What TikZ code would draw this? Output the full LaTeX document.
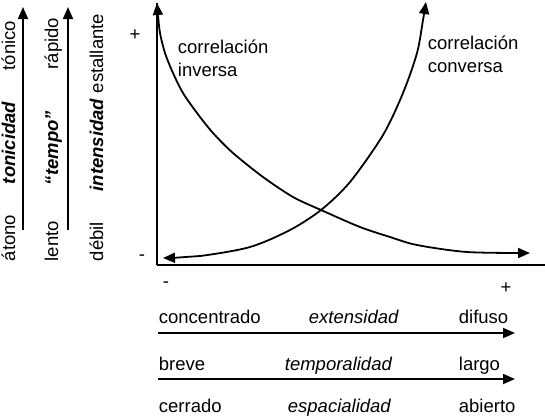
\documentclass[tikz,border=0pt]{standalone}
\usepackage{fontspec}
\setmainfont{Liberation Sans}
\usetikzlibrary{arrows.meta}
\begin{document}
\begin{tikzpicture}[x=0.5pt,y=-0.5pt,line width=0.9pt,
    every node/.style={inner sep=0pt,font=\fontsize{9.25}{11.5}\selectfont},
    vlbl/.style={rotate=90},
    axlbl/.style={font=\fontsize{9.25}{11.5}\selectfont\bfseries\itshape},
    arr/.style={-{Triangle[length=6pt,width=5pt]}},
    dblarr/.style={{Triangle[length=6pt,width=5pt]}-{Triangle[length=6pt,width=5pt]}}]
  \useasboundingbox (0,0) rectangle (545,418);
  \def\xo{157};
  \def\yo{265};
  % left scales
  \coordinate (ton-a) at (23,230);
  \coordinate (ton-b) at (23,7);
  \coordinate (tem-a) at (68,230);
  \coordinate (tem-b) at (68,7);
  \draw[arr] (ton-a) -- (ton-b);
  \draw[arr] (tem-a) -- (tem-b);
  \node (atono) at (15,262) [vlbl,anchor=base west] {átono};
  \node (tonicidad) at (15,143) [vlbl,anchor=base,axlbl] {tonicidad};
  \node (tonico) at (15,20) [vlbl,anchor=base east] {tónico};
  \node (lento) at (58,262) [vlbl,anchor=base west] {lento};
  \node (tempo) at (58,148) [vlbl,anchor=base,axlbl] {“tempo”};
  \node (rapido) at (58,17) [vlbl,anchor=base east] {rápido};
  \node (debil) at (103,262) [vlbl,anchor=base west] {débil};
  \node (intensidad) at (103,145) [vlbl,anchor=base,axlbl] {intensidad};
  \node (estallante) at (103,13) [vlbl,anchor=base east] {estallante};
  % axes
  \coordinate (O) at (\xo,\yo);
  \coordinate (ytop) at (\xo,3);
  \coordinate (xend) at (545,\yo);
  \draw (O) -- (ytop);
  \draw (O) -- (xend);
  \node (ymax) at (135,35) {+};
  \node (ymin) at (142,258) {-};
  \node (xmin) at (166,285) {-};
  \node (xmax) at (506,288) {+};
  % curves
  \draw[dblarr] plot[smooth] coordinates {(157,3) (158,15) (160,33) (165,53)
    (173,73) (183,93) (197,113) (213,133) (233,153) (263,177) (293,197)
    (321,210) (360,227) (390,237) (417,245) (467,252) (530,253)};
  \draw[dblarr] plot[smooth] coordinates {(163,258) (200,256) (250,247)
    (290,230) (321,210) (350,182) (383,135) (403,93) (417,53) (423,20) (426,2)};
  \node (inv) at (177,76) [anchor=base west,align=left] {correlación\\inversa};
  \node (conv) at (427,72) [anchor=base west,align=left] {correlación\\conversa};
  % bottom scales
  \coordinate (ext-a) at (158,333);
  \coordinate (ext-b) at (515,333);
  \coordinate (tmp-a) at (158,379);
  \coordinate (tmp-b) at (515,379);
  \draw[arr] (ext-a) -- (ext-b);
  \draw[arr] (tmp-a) -- (tmp-b);
  \node (concentrado) at (158,323) [anchor=base west] {concentrado};
  \node (extensidad) at (308,323) [anchor=base west] {\itshape extensidad};
  \node (difuso) at (458,323) [anchor=base west] {difuso};
  \node (breve) at (158,370) [anchor=base west] {breve};
  \node (temporalidad) at (284,370) [anchor=base west] {\itshape temporalidad};
  \node (largo) at (458,370) [anchor=base west] {largo};
  \node (cerrado) at (158,412) [anchor=base west] {cerrado};
  \node (espacialidad) at (287,412) [anchor=base west] {\itshape espacialidad};
  \node (abierto) at (458,412) [anchor=base west] {abierto};
\end{tikzpicture}
\end{document}
